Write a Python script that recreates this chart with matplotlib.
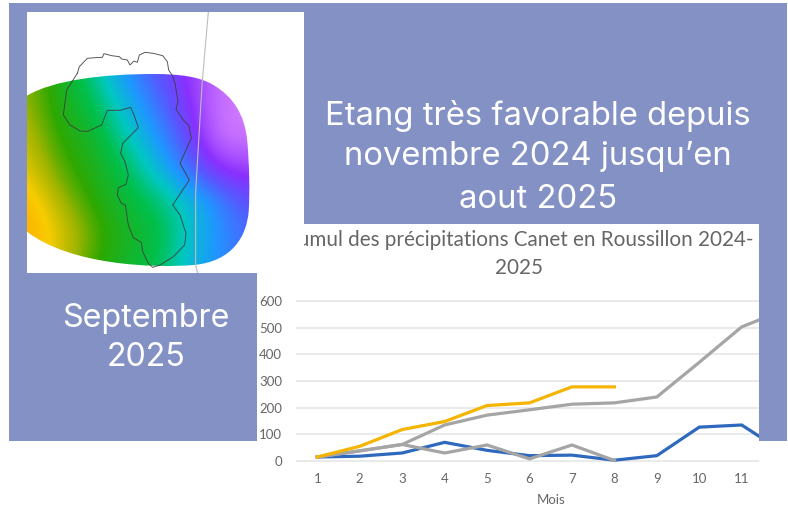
import matplotlib
matplotlib.use("Agg")
import matplotlib.pyplot as plt
from matplotlib.colors import LinearSegmentedColormap
from matplotlib.patches import Rectangle, PathPatch
from matplotlib.path import Path

W, H = 788, 515
BLUE = "#8491C4"
TXT = "#666666"

months = [1, 2, 3, 4, 5, 6, 7, 8, 9, 10, 11, 12]
yellow_vals = [15, 55, 118, 148, 208, 218, 278, 278]
cumul_gray_vals = [15, 38, 62, 135, 172, 192, 213, 218, 240, 370, 503, 566]
blue_vals = [15, 18, 30, 70, 40, 20, 22, 3, 20, 127, 135, 32]
monthly_gray_vals = [15, 38, 62, 30, 60, 8, 60, 2]
y_ticks = [0, 100, 200, 300, 400, 500, 600]
x_ticks = [1, 2, 3, 4, 5, 6, 7, 8, 9, 10, 11]

field_x = [21, 120, 220, 320, 420, 520, 620, 690]
field_y = [200, 300, 400, 500, 600, 700, 790]
field = [
    [.24, .36, .50, .66, .78, .88, .98, 1.0],
    [.22, .36, .44, .58, .72, .85, 1.0, 1.0],
    [.17, .33, .38, .52, .65, .80, 1.0, 1.0],
    [.12, .28, .36, .44, .58, .72, .88, .90],
    [.03, .20, .32, .41, .46, .56, .68, .80],
    [.00, .12, .27, .37, .42, .55, .68, .75],
    [.03, .16, .31, .40, .44, .58, .68, .72],
]
shape_x = [21, 100, 250, 400, 480, 540, 580, 640, 675, 682, 688, 690, 686, 680, 640, 520, 400, 150, 21, 21]
shape_y = [272, 225, 207, 207, 207, 215, 240, 275, 330, 410, 480, 560, 620, 690, 770, 780, 790, 780, 680, 272]
outline_x = [172, 178, 202, 225, 247, 252, 275, 298, 305, 322, 330, 342, 352, 358, 375, 400, 428, 442, 446, 458, 466, 474, 468, 490, 507, 514, 480, 508, 458, 480, 498, 494, 460, 420, 398, 385, 368, 364, 340, 325, 316, 304, 292, 295, 318, 325, 315, 302, 308, 355, 342, 332, 300, 262, 245, 203, 180, 150, 130, 140]
outline_y = [205, 185, 160, 158, 157, 146, 152, 155, 162, 165, 180, 168, 172, 150, 142, 145, 152, 170, 195, 213, 240, 290, 313, 345, 362, 400, 475, 525, 600, 630, 685, 720, 755, 780, 787, 775, 740, 712, 698, 660, 600, 595, 570, 548, 538, 510, 470, 445, 415, 368, 330, 307, 316, 316, 360, 379, 378, 360, 330, 255]
meridian_x = [565, 546, 527, 527, 533]
meridian_y = [21, 240, 560, 780, 804]

cmap = LinearSegmentedColormap.from_list("field", [
    (0.00, "#ffab00"), (0.10, "#f8cc00"), (0.22, "#a0b400"), (0.32, "#2fa800"),
    (0.45, "#00c04c"), (0.55, "#00c8c0"), (0.66, "#1e98ff"), (0.78, "#5a55ff"),
    (0.87, "#8a30ff"), (1.00, "#cc76ff")])


def px_axes(fig, x0, y0, x1, y1, **kw):
    return fig.add_axes([x0 / W, 1 - y1 / H, (x1 - x0) / W, (y1 - y0) / H], **kw)


fig = plt.figure(figsize=(W / 100, H / 100), dpi=100, facecolor="white")

bg = px_axes(fig, 0, 0, W, H, zorder=0)
bg.set_xlim(0, W)
bg.set_ylim(H, 0)
bg.axis("off")
bg.add_patch(Rectangle((9, 3), 778, 438, fc=BLUE, ec="none"))
bg.add_patch(Rectangle((257, 224), 502, 291, fc="white", ec="none"))
for s, x, y in [("Etang très favorable depuis", 538, 116),
                ("novembre 2024 jusqu’en", 538, 157),
                ("aout 2025", 538, 199)]:
    bg.text(x, y, s, color="white", fontsize=23.6, ha="center", va="center", family="Inter")
for s, x, y in [("Septembre", 146, 318), ("2025", 146, 357)]:
    bg.text(x, y, s, color="white", fontsize=23.2, ha="center", va="center", family="Inter")
bg.text(519, 240, "Cumul des précipitations Canet en Roussillon 2024-", color=TXT,
        fontsize=14.9, ha="center", va="center", family="Lato")
bg.text(519, 268, "2025", color=TXT, fontsize=14.9, ha="center", va="center", family="Lato")

ax = px_axes(fig, 296, 224, 759, 470, zorder=1)
ax.patch.set_alpha(0)
px_per_m, px_per_v = 42.44, 160 / 600
ax.set_xlim(1 + (296 - 317.3) / px_per_m, 1 + (759 - 317.3) / px_per_m)
ax.set_ylim((461 - 470) / px_per_v, (461 - 224) / px_per_v)
for sp in ax.spines.values():
    sp.set_visible(False)
ax.set_yticks(y_ticks)
ax.set_xticks(x_ticks)
ax.grid(axis="y", color="#e4e4e4", lw=1.1)
ax.set_axisbelow(True)
ax.tick_params(length=0, labelcolor=TXT, labelsize=9.5)
for lab in ax.get_xticklabels() + ax.get_yticklabels():
    lab.set_family("Lato")
ax.tick_params(axis="y", pad=10)
ax.tick_params(axis="x", pad=2)
ax.set_xlabel("Mois", color=TXT, fontsize=9.5, family="Lato", labelpad=7, x=0.55)
ax.plot(months, blue_vals, color="#2f69bd", lw=2.3, solid_joinstyle="miter")
ax.plot(months[:8], monthly_gray_vals, color="#a5a5a5", lw=2.3, solid_joinstyle="miter")
ax.plot(months, cumul_gray_vals, color="#a5a5a5", lw=2.3, solid_joinstyle="miter")
ax.plot(months[:8], yellow_vals, color="#f4b400", lw=2.3, solid_joinstyle="miter")

m = px_axes(fig, 27, 12, 304, 273, zorder=2)
m.set_facecolor("white")
m.set_xticks([])
m.set_yticks([])
for sp in m.spines.values():
    sp.set_visible(False)
dx, dy = field_x[1] - field_x[0], field_y[1] - field_y[0]
im = m.imshow(field, cmap=cmap, vmin=0, vmax=1, interpolation="bicubic", aspect="auto",
              extent=[field_x[0] - dx / 2, field_x[-1] + dx / 2, field_y[-1] + dy / 2, field_y[0] - dy / 2])
m.set_xlim(21, 852)
m.set_ylim(804, 21)
codes = [Path.MOVETO] + [Path.CURVE4] * 18 + [Path.CLOSEPOLY]
clip = PathPatch(Path(list(zip(shape_x, shape_y)), codes), transform=m.transData, fc="none", ec="none")
m.add_patch(clip)
im.set_clip_path(clip)
m.plot(meridian_x, meridian_y, color="#bcbcbc", lw=0.8)
m.plot(outline_x + outline_x[:1], outline_y + outline_y[:1], color="#3c3c3c", lw=0.7, alpha=0.85)

fig.savefig("out.png", dpi=100, facecolor="white")
